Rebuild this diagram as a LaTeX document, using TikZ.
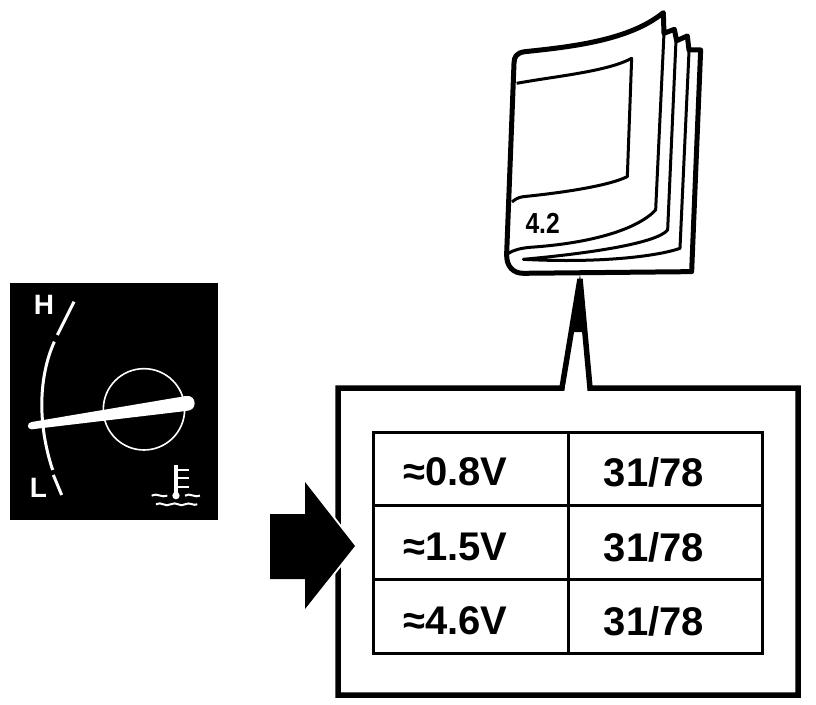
\documentclass[tikz,border=0pt]{standalone}
\usepackage{fontspec}
\setmainfont{Liberation Sans}
\usetikzlibrary{positioning,calc}
\tikzset{
cell/.style = {font=\fontsize{40}{40}\selectfont\bfseries, inner sep=0pt},
dial/.style = {font=\fontsize{28}{28}\selectfont\bfseries, inner sep=0pt, text=white},
bookline/.style = {draw, line width=3pt, line join=round},
bookedge/.style = {draw, line width=5pt, line join=round},
gaugeline/.style = {draw=white, line width=3pt},
grid/.style = {draw, line width=3pt}
}

\begin{document}
\begin{tikzpicture}[x=1pt, y=-1pt]
    \useasboundingbox (0,0) rectangle (816,704);
    % gauge
    \fill [black] (10,283) rectangle (218,520);
    \begin{scope}[shift={(0,275)}, x=0.3333pt, y=-0.3333pt]
        \draw [gaugeline, line width=1.6pt] (432,403) circle (122);
        \draw [gaugeline] (222,80) -- (172,180);
        \draw [gaugeline] (163,200) .. controls (118,300) and (110,440) .. (158,585);
        \draw [gaugeline] (160,600) -- (185,660);
        \fill [white] (95,441) -- (558,363) .. controls (575,361) and (584,372) .. (584,385)
            .. controls (584,398) and (575,407) .. (558,408) -- (95,463)
            .. controls (80,463) and (80,443) .. (95,441) -- cycle;
        \draw [gaugeline, line width=3.4pt] (528,570) -- (528,660);
        \fill [white] (528,662) circle (11);
        \foreach \yy in {585,610,635} {
            \draw [gaugeline, line width=2pt] (528,\yy) -- (566,\yy);
        }
        \draw [gaugeline, line width=2pt] (455,662) .. controls (470,652) and (485,670) .. (502,662);
        \draw [gaugeline, line width=2pt] (555,662) .. controls (570,652) and (585,670) .. (600,662);
        \draw [gaugeline, line width=2pt] (468,688) .. controls (485,678) and (495,698) .. (512,688)
            .. controls (530,678) and (540,698) .. (555,688) .. controls (570,680) and (580,694) .. (592,688);
        \node [dial] (high) at (132,90) {H};
        \node [dial] (low) at (115,640) {L};
    \end{scope}
    % book
    \begin{scope}[shift={(490,0)}, x=0.3333pt, y=-0.3333pt]
        \path [bookedge] (520,38) .. controls (420,120) and (250,140) .. (105,155)
            .. controls (80,158) and (72,170) .. (72,190) -- (50,760)
            .. controls (48,800) and (70,820) .. (100,820) -- (605,815) -- (632,150) -- (597,150)
            -- (592,108) -- (560,122) -- (553,88) -- (522,100) -- cycle;
        \path [bookline] (522,100) -- (497,630) .. controls (440,690) and (300,730) .. (120,742)
            .. controls (90,745) and (70,750) .. (52,762);
        \path [bookline] (558,122) -- (533,690) .. controls (500,730) and (300,760) .. (100,778)
            .. controls (320,790) and (500,770) .. (570,745) -- (597,155);
        \path [bookline] (80,250) .. controls (200,228) and (350,215) .. (425,175) -- (412,530)
            .. controls (350,560) and (200,580) .. (100,590) .. controls (85,592) and (75,598) .. (66,606);
        \node [inner sep=0pt] (booknum) at (158,670) {\scalebox{0.85}[1]{\fontsize{29}{29}\selectfont\bfseries 4.2}};
    \end{scope}
    % frame with pointer
    \coordinate (tip) at (580,279);
    \draw [line width=5.5pt, miter limit=4] (562,388) -- (tip) -- (590,388) -- (798,388) -- (798,695) -- (338,695) -- (338,388) -- cycle;
    \fill [black] (580,274) -- (586,332) -- (571,332) -- cycle;
    \draw [white, line width=6.5pt] (565,388) -- (587,388);
    % table
    \node [draw, grid, minimum width=389pt, minimum height=221pt, inner sep=0pt] (tab) at (567.5,542.5) {};
    \draw [grid] (tab.north west |- 0,505.5) -- (tab.north east |- 0,505.5);
    \draw [grid] (tab.north west |- 0,579) -- (tab.north east |- 0,579);
    \draw [grid] (568,432) -- (568,653);
    % cells
    \node [cell, anchor=west] (v1) at (403,472) {≈0.8V};
    \node [cell, anchor=west] (v2) at (403,547) {≈1.5V};
    \node [cell, anchor=west] (v3) at (403,621) {≈4.6V};
    \node [cell] (p1) at (654,472) {31/78};
    \node [cell] (p2) at (654,547) {31/78};
    \node [cell] (p3) at (654,621) {31/78};
    % arrow
    \draw [white, line width=4pt] (305,482) -- (355,546) -- (305,609);
    \fill [black] (270,514) -- (305,514) -- (305,482) -- (355,546) -- (305,609) -- (305,579) -- (270,579) -- cycle;
\end{tikzpicture}
\end{document}
